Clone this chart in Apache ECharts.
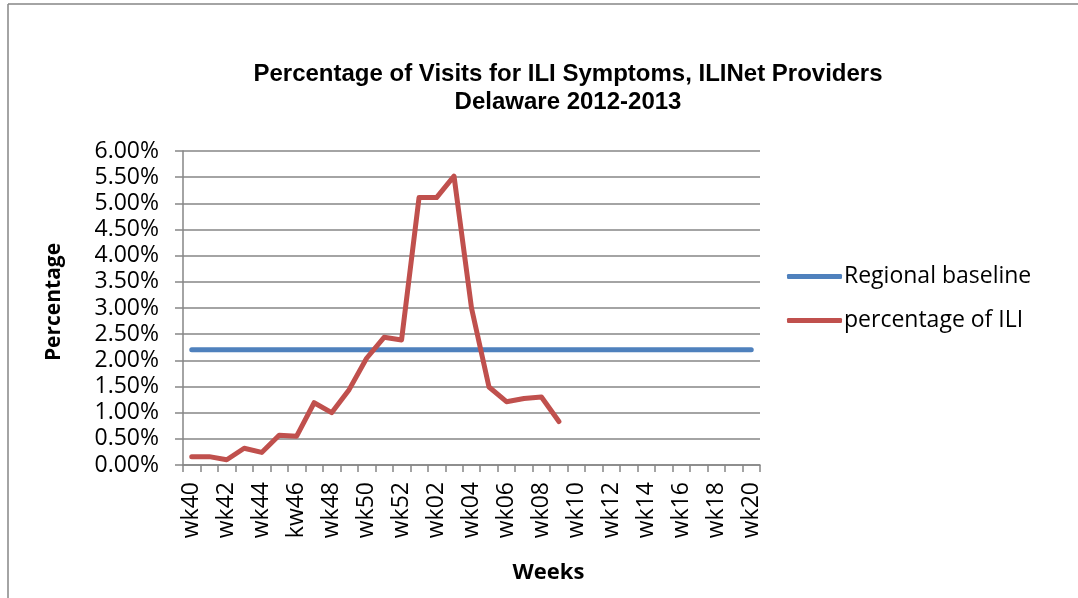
<!DOCTYPE html>
<html>
<head>
<meta charset="utf-8">
<script src="https://cdn.jsdelivr.net/npm/echarts@6/dist/echarts.min.js"></script>
<style>
html,body{margin:0;padding:0;background:#fff;}
#chart{width:1078px;height:598px;}
</style>
</head>
<body>
<div id="chart"></div>
<script>
const weeks = ['wk40','wk41','wk42','wk43','wk44','wk45','kw46','wk47','wk48','wk49','wk50','wk51','wk52',
  'wk01','wk02','wk03','wk04','wk05','wk06','wk07','wk08','wk09','wk10','wk11','wk12','wk13','wk14',
  'wk15','wk16','wk17','wk18','wk19','wk20'];
const regionalBaseline = [2.2,2.2,2.2,2.2,2.2,2.2,2.2,2.2,2.2,2.2,2.2,2.2,2.2,2.2,2.2,2.2,2.2,
  2.2,2.2,2.2,2.2,2.2,2.2,2.2,2.2,2.2,2.2,2.2,2.2,2.2,2.2,2.2,2.2];
const percentILI = [0.16,0.16,0.10,0.32,0.24,0.57,0.55,1.19,1.00,1.44,2.04,2.44,2.39,
  5.11,5.11,5.52,3.00,1.49,1.21,1.27,1.30,0.83];
const titleLines = ['Percentage of Visits for ILI Symptoms, ILINet Providers', 'Delaware 2012-2013'];

const chart = echarts.init(document.getElementById('chart'));
const gray = '#868686';
chart.setOption({
  animation: false,
  backgroundColor: '#fff',
  title: {
    text: titleLines.join('\n'),
    left: 568, top: 60, textAlign: 'center', padding: 0,
    textStyle: {fontFamily: 'Liberation Sans', fontWeight: 'bold', fontSize: 24, color: '#000', lineHeight: 28}
  },
  legend: {
    orient: 'vertical', left: 787, top: 265, padding: 0,
    itemWidth: 55, itemHeight: 5, itemGap: 21, icon: 'roundRect',
    textStyle: {fontFamily: 'Open Sans', fontSize: 23, color: '#000', padding: [0,0,0,-3]},
    data: ['Regional baseline', 'percentage of ILI']
  },
  grid: {left: 183, right: 318, top: 151, bottom: 133, containLabel: false},
  xAxis: {
    type: 'category', data: weeks, boundaryGap: true,
    name: 'Weeks', nameLocation: 'middle', nameGap: 97,
    nameTextStyle: {fontFamily: 'Open Sans', fontWeight: 'bold', fontSize: 22, color: '#000', padding: [0,0,0,154]},
    axisLine: {lineStyle: {color: gray, width: 1.5}},
    axisTick: {show: true, length: 7, interval: 0, lineStyle: {color: gray, width: 1.5}},
    axisLabel: {interval: 1, rotate: 90, fontFamily: 'Open Sans', fontSize: 23, color: '#000', margin: 17}
  },
  yAxis: {
    type: 'value', min: 0, max: 6, interval: 0.5,
    name: 'Percentage', nameLocation: 'middle', nameGap: 118, nameRotate: 90,
    nameTextStyle: {fontFamily: 'Open Sans', fontWeight: 'bold', fontSize: 21, color: '#000', padding: [0,0,0,12]},
    axisLine: {show: true, lineStyle: {color: gray, width: 1.5}},
    axisTick: {show: true, length: 8, lineStyle: {color: gray, width: 1.5}},
    axisLabel: {formatter: v => v.toFixed(2) + '%', fontFamily: 'Open Sans', fontSize: 23, color: '#000', margin: 24},
    splitLine: {lineStyle: {color: gray, width: 1.5}}
  },
  series: [
    {name: 'Regional baseline', type: 'line', data: regionalBaseline, symbol: 'none',
     lineStyle: {color: '#4F81BD', width: 5, cap: 'round'}, itemStyle: {color: '#4F81BD'}},
    {name: 'percentage of ILI', type: 'line', data: percentILI, symbol: 'none',
     lineStyle: {color: '#C0504D', width: 5, cap: 'round', join: 'round'}, itemStyle: {color: '#C0504D'}}
  ],
  graphic: [
    {type: 'line', shape: {x1: 8, y1: 4, x2: 1078, y2: 4}, style: {stroke: gray, lineWidth: 1.5}},
    {type: 'line', shape: {x1: 8, y1: 4, x2: 8, y2: 598}, style: {stroke: gray, lineWidth: 1.5}}
  ]
});
</script>
</body>
</html>
